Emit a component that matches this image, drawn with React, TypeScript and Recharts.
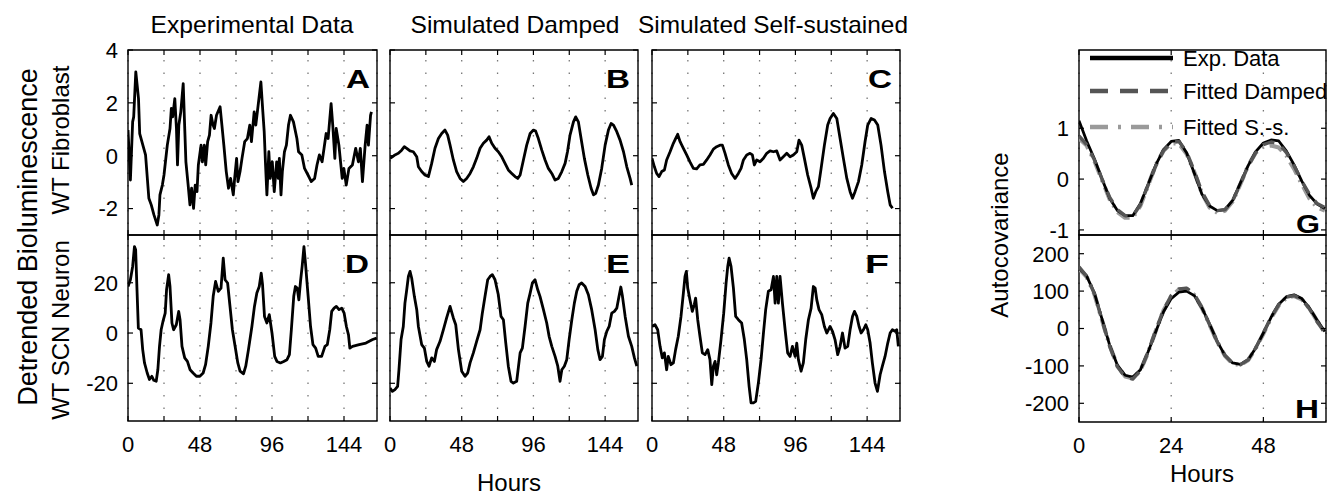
import React from 'react';
import {
  LineChart,
  Line,
  XAxis,
  YAxis,
  CartesianGrid,
  ReferenceArea
} from 'recharts';

const FONT = '"Liberation Sans", Arial, Helvetica, sans-serif';

// [hour, value] pairs
const expFibroblast: [number, number][] = [
  [0, 0.97], [1.6, -0.92], [3.1, 1.28], [3.8, 1.47], [5.2, 3.17], [6.1, 2.67], [7.0, 2.16], [7.8, 0.84], [10.5, 0.28], [11.7, 0.03],
  [13.9, -1.61], [15.5, -1.86], [17.3, -2.24], [19.5, -2.62], [20.6, -2.24], [21.3, -1.48], [22.9, -1.11], [24.0, -0.73], [26.2, 0.4], [28.0, 1.03],
  [28.9, 1.79], [29.8, 1.47], [31.2, 2.16], [32.3, 1.03], [33.0, -0.35], [33.9, 1.16], [35.2, 1.66], [36.8, 2.73], [37.9, 0.91], [38.6, -0.23],
  [40.1, -1.11], [41.3, -1.86], [42.4, -1.23], [43.7, -1.99], [44.8, -1.11], [46.0, -1.36], [46.9, -0.35], [48.7, 0.4], [49.6, -0.23], [50.9, 0.4],
  [51.8, -0.35], [53.1, 0.53], [54.3, 0.78], [55.4, 1.53], [56.7, 1.16], [57.6, 1.03], [59.0, 1.53], [61.4, 1.85], [62.6, 1.16], [63.9, 0.4],
  [65.5, -0.6], [67.0, -1.23], [68.4, -0.86], [70.2, -1.48], [71.1, -0.86], [72.4, -0.1], [73.3, -0.98], [74.7, -0.6], [76.0, -0.1], [77.8, 0.53],
  [79.6, 0.65], [81.2, 1.16], [82.3, 0.53], [84.1, 1.66], [85.2, 1.16], [88.6, 2.79], [89.9, 1.66], [90.8, 0.91], [91.7, -0.35], [92.6, -1.48],
  [93.9, 0.15], [94.8, -0.86], [96.2, -0.23], [97.5, -1.36], [99.1, -0.23], [100.2, -0.86], [100.9, -0.1], [102.0, -1.48], [102.9, -0.6], [104.3, 0.15],
  [105.6, 0.4], [107.0, 1.16], [108.3, 1.53], [110.3, 1.28], [112.6, 0.65], [113.7, 0.15], [115.9, 0.03], [117.7, -0.48], [120.0, -0.73], [122.2, -0.98],
  [124.4, -0.86], [126.0, -0.35], [127.6, 0.03], [129.4, -0.23], [130.7, 0.28], [132.1, 0.84], [133.4, 0.65], [135.4, 1.97], [136.5, 1.16], [137.9, -0.1],
  [138.8, 1.03], [140.6, 0.4], [142.8, -0.86], [143.9, -0.48], [145.5, -1.11], [147.3, -0.48], [149.6, -0.35], [151.8, 0.28], [153.6, -0.23], [154.9, 0.28],
  [156.3, -0.98], [158.1, 0.4], [159.4, 1.16], [160.3, 0.4], [161.7, 1.53], [162.3, 1.66]
];

const dampedFibroblast: [number, number][] = [
  [0, -0.1], [1.6, -0.04], [3.3, 0.03], [5.6, 0.09], [7.8, 0.21], [9.6, 0.34], [11.2, 0.28], [13.4, 0.18], [15.6, 0.15], [17.9, -0.04],
  [19.0, -0.42], [21.2, -0.6], [23.4, -0.73], [25.7, -0.79], [27.9, -0.29], [30.1, 0.28], [32.4, 0.65], [34.6, 0.84], [36.8, 0.97], [38.6, 0.78],
  [40.2, 0.4], [42.4, -0.16], [44.6, -0.6], [46.9, -0.86], [49.1, -0.98], [51.3, -0.86], [53.6, -0.67], [55.8, -0.42], [58.0, -0.1], [60.3, 0.28],
  [62.5, 0.47], [64.7, 0.59], [66.3, 0.72], [68.1, 0.47], [70.3, 0.28], [72.5, 0.15], [74.8, -0.04], [77.0, -0.29], [79.2, -0.54], [81.5, -0.67],
  [83.7, -0.79], [85.5, -0.86], [87.1, -0.73], [89.3, -0.16], [91.5, 0.4], [93.8, 0.84], [96.0, 0.97], [97.5, 0.93], [99.3, 0.65], [101.6, 0.21],
  [103.8, -0.16], [106.0, -0.48], [108.3, -0.67], [110.5, -0.92], [112.7, -0.86], [115.0, -0.6], [117.2, -0.29], [118.8, 0.15], [120.5, 0.78], [122.8, 1.28],
  [124.3, 1.47], [126.1, 1.28], [127.9, 0.65], [130.1, -0.1], [132.4, -0.73], [134.6, -1.23], [136.2, -1.48], [137.7, -1.42], [139.5, -1.11], [141.7, -0.48],
  [144.0, 0.4], [146.2, 0.97], [148.0, 1.22], [149.6, 1.16], [151.8, 0.91], [154.0, 0.59], [156.3, 0.15], [158.5, -0.42], [160.7, -0.86], [161.8, -1.11]
];

const selfSustFibroblast: [number, number][] = [
  [0, -0.1], [1.6, -0.42], [3.1, -0.67], [4.7, -0.79], [6.5, -0.6], [8.3, -0.54], [9.8, -0.16], [12.1, 0.15], [14.3, 0.47], [15.8, 0.65],
  [17.2, 0.81], [18.8, 0.53], [21.0, 0.28], [23.2, 0.03], [25.4, -0.23], [27.7, -0.48], [29.9, -0.5], [32.1, -0.35], [34.4, -0.33], [36.6, -0.16],
  [38.8, 0.03], [41.1, 0.25], [43.3, 0.34], [45.5, 0.4], [47.1, 0.4], [48.9, 0.09], [51.1, -0.35], [53.3, -0.67], [55.6, -0.86], [57.8, -0.67],
  [59.6, -0.48], [61.2, -0.16], [63.4, 0.03], [65.6, 0.09], [67.2, 0.03], [68.5, -0.35], [70.1, -0.16], [72.3, -0.23], [74.6, -0.1], [76.8, 0.09],
  [79.0, 0.18], [81.3, 0.15], [83.5, 0.18], [85.7, -0.16], [87.9, -0.04], [90.2, 0.09], [92.4, -0.04], [94.6, 0.03], [96.9, 0.15], [98.4, 0.59],
  [100.2, 0.4], [102.0, -0.1], [104.2, -0.73], [106.5, -1.23], [108.0, -1.61], [109.6, -1.36], [111.4, -1.17], [113.2, -0.48], [115.4, 0.4], [117.6, 1.16],
  [119.2, 1.41], [121.4, 1.6], [123.7, 1.41], [125.9, 0.65], [128.1, -0.1], [130.4, -0.86], [132.6, -1.36], [134.2, -1.61], [135.9, -1.36], [138.2, -0.98],
  [140.4, -0.35], [142.6, 0.53], [144.4, 1.16], [146.7, 1.41], [148.9, 1.35], [151.1, 1.16], [153.3, 0.4], [155.6, -0.6], [157.8, -1.36], [159.4, -1.86],
  [161.0, -1.99]
];

const expNeuron: [number, number][] = [
  [0, 18.5], [1.6, 21.2], [3.1, 26.5], [4.3, 34.4], [5.1, 33.1], [6.0, 17.2], [6.9, 2.0], [8.7, 1.3], [9.8, -6.6], [11.0, -11.9],
  [12.8, -15.9], [14.3, -18.5], [15.9, -17.2], [17.2, -18.8], [18.8, -19.2], [19.9, -14.6], [21.0, -5.3], [22.1, 1.3], [23.3, 4.6], [24.8, 7.9],
  [25.7, 17.2], [27.1, 23.2], [28.0, 18.5], [29.3, 4.0], [30.4, 1.3], [32.2, 3.3], [33.8, 8.6], [34.7, 5.3], [36.0, -5.3], [37.8, -9.9],
  [39.6, -11.3], [41.4, -14.6], [43.4, -15.9], [45.6, -17.2], [47.9, -17.2], [50.1, -15.9], [51.7, -12.6], [53.5, -5.3], [55.3, 4.0], [56.8, 14.6],
  [58.4, 20.5], [60.2, 16.6], [62.0, 17.9], [63.5, 29.8], [64.7, 21.2], [66.4, 19.9], [68.0, 10.6], [69.6, 1.3], [71.4, -5.3], [73.2, -11.9],
  [74.7, -15.2], [77.0, -16.2], [78.5, -13.2], [80.3, -6.6], [82.6, 2.6], [84.3, 10.6], [85.9, 15.9], [87.5, 18.5], [88.8, 23.8], [89.7, 19.2],
  [91.0, 6.6], [92.6, 4.0], [94.2, 7.3], [96.0, 0], [97.8, -9.3], [99.3, -11.3], [101.6, -11.9], [103.8, -11.3], [106.0, -10.6], [107.6, -8.6],
  [108.9, 1.3], [110.5, 14.6], [111.6, 18.5], [112.8, 17.9], [113.9, 13.2], [115.0, 20.5], [116.1, 26.5], [117.3, 34.4], [118.3, 27.8], [120.1, 14.6],
  [121.7, 2.6], [123.3, -4.6], [125.1, -6.0], [126.8, -9.3], [129.1, -9.3], [131.3, -5.3], [132.9, -4.6], [134.5, 1.3], [135.8, 8.6], [137.4, 9.9],
  [138.9, 10.6], [140.7, 9.3], [142.5, 9.9], [144.1, 7.9], [145.6, 2.6], [147.0, -0.7], [147.9, -6.0], [149.7, -5.3], [154.1, -4.6], [158.6, -4.0],
  [163.1, -2.6], [165.8, -2.0]
];

const dampedNeuron: [number, number][] = [
  [0, -21.9], [1.6, -23.2], [3.3, -22.5], [5.1, -21.2], [6.0, -14.6], [7.4, -2.6], [8.9, 2.6], [10.0, 11.9], [11.2, 17.2], [12.3, 22.5],
  [13.4, 24.5], [14.5, 21.9], [16.3, 14.6], [17.9, 9.3], [19.0, 2.6], [21.2, -4.6], [23.0, -6.0], [24.6, -11.3], [26.1, -13.2], [27.9, -9.9],
  [29.7, -11.3], [31.2, -6.6], [33.5, -3.3], [35.7, 1.3], [37.9, 6.0], [40.2, 10.6], [42.4, 6.0], [44.0, 3.3], [45.8, -6.6], [48.0, -15.2],
  [50.2, -17.2], [52.0, -15.9], [53.6, -11.9], [55.8, -7.9], [58.0, -3.3], [60.3, 1.3], [61.8, 7.9], [63.6, 14.6], [65.4, 21.2], [67.0, 22.5],
  [68.5, 23.2], [70.3, 21.2], [72.5, 15.2], [74.3, 6.6], [75.9, 5.3], [77.5, -4.0], [79.2, -13.2], [81.0, -19.2], [82.6, -19.9], [84.8, -19.2],
  [87.1, -7.9], [88.6, -6.0], [90.4, 2.6], [92.2, 11.9], [93.8, 15.9], [95.3, 19.9], [97.1, 21.2], [98.9, 17.2], [100.4, 14.6], [102.7, 9.3],
  [104.9, 4.0], [106.5, -1.3], [108.3, -5.3], [110.5, -9.3], [112.3, -13.2], [113.8, -19.2], [115.0, -14.6], [116.7, -13.2], [118.3, -10.6], [119.9, -2.6],
  [121.7, 5.3], [123.4, 11.9], [125.0, 16.6], [126.6, 19.2], [128.3, 19.9], [130.6, 18.5], [132.8, 15.2], [135.0, 9.3], [137.3, 1.3], [139.1, -6.6],
  [140.6, -10.6], [142.2, -9.3], [143.5, -2.6], [145.1, 0.7], [146.7, 2.6], [148.4, 7.9], [150.2, 8.6], [151.8, 9.9], [153.3, 14.6], [154.5, 18.3],
  [155.6, 14.6], [157.4, 6.6], [159.6, -1.3], [161.8, -5.3], [163.6, -9.9], [165.2, -13.2]
];

const selfSustNeuron: [number, number][] = [
  [0, 2.6], [2.0, 3.3], [3.8, 1.3], [5.4, -5.3], [6.9, -9.9], [8.3, -7.9], [9.8, -14.6], [10.9, -9.3], [12.7, -12.6], [14.3, -11.9],
  [15.8, -6.6], [17.6, -1.3], [19.4, 6.6], [21.0, 15.9], [22.1, 22.5], [23.0, 24.5], [23.9, 17.9], [25.4, 13.2], [27.0, 8.6], [28.3, 11.3],
  [29.2, 13.9], [30.6, 5.3], [32.1, -1.3], [33.7, -7.9], [35.5, -8.6], [37.3, -6.6], [38.8, -10.6], [40.0, -20.5], [41.1, -13.2], [42.2, -11.3],
  [43.3, -16.6], [44.4, -11.9], [46.2, -2.6], [48.0, 7.9], [49.6, 19.9], [50.7, 26.5], [51.6, 29.8], [52.9, 26.5], [54.5, 17.9], [56.0, 6.6],
  [57.8, 5.3], [60.0, 4.0], [61.8, -2.6], [63.4, -10.6], [65.0, -21.2], [66.3, -27.8], [67.9, -27.8], [69.4, -27.2], [71.2, -19.9], [73.0, -10.6],
  [74.6, 0], [76.1, 9.3], [77.9, 16.6], [79.7, 17.2], [81.3, 22.5], [82.4, 11.9], [83.5, 22.5], [84.6, 11.9], [85.7, 22.5], [87.3, 11.9],
  [89.1, 1.3], [90.8, -7.9], [92.4, -9.3], [94.0, -5.3], [95.8, -9.3], [96.9, -4.0], [98.0, -10.6], [99.8, -15.2], [101.3, -11.9], [102.9, -2.6],
  [104.7, 5.3], [106.5, 9.9], [108.0, 18.5], [109.2, 17.9], [110.3, 13.2], [111.8, 9.3], [113.6, 7.3], [115.4, 2.6], [117.0, 0], [119.2, 2.6],
  [120.8, 0.7], [122.5, -2.6], [124.3, -8.6], [125.9, -5.3], [127.5, 0], [129.2, -6.0], [131.0, -5.3], [132.6, 1.3], [134.2, 6.6], [135.5, 8.6],
  [137.1, 6.6], [138.6, 2.6], [140.0, 0], [141.5, 1.3], [143.1, 3.3], [144.4, 1.3], [146.0, -4.0], [147.5, -11.9], [149.3, -19.9], [150.9, -23.2],
  [152.7, -16.6], [154.2, -13.2], [156.0, -9.3], [157.8, -4.0], [159.4, 0], [160.9, 1.3], [162.7, 0.7], [163.8, 1.3], [164.9, -5.3]
];

// autocovariance panels (lag in hours)
const lagHours = [0, 2, 4, 6, 8, 10, 12, 14, 16, 18, 20, 22, 24, 26, 28, 30, 32, 34, 36, 38, 40, 42, 44, 46, 48, 50, 52, 54, 56, 58, 60, 62, 64];

const acovFibroExp = [1.15, 0.75, 0.4, 0.0, -0.38, -0.62, -0.72, -0.72, -0.48, -0.1, 0.28, 0.58, 0.74, 0.76, 0.52, 0.12, -0.3, -0.53, -0.62, -0.6, -0.42, -0.08, 0.26, 0.54, 0.71, 0.77, 0.75, 0.55, 0.28, -0.04, -0.32, -0.49, -0.58];
const acovFibroDamped = [0.85, 0.68, 0.38, 0.0, -0.36, -0.6, -0.72, -0.73, -0.5, -0.12, 0.26, 0.56, 0.72, 0.74, 0.54, 0.16, -0.25, -0.52, -0.62, -0.6, -0.43, -0.1, 0.25, 0.52, 0.68, 0.73, 0.7, 0.52, 0.26, -0.04, -0.3, -0.48, -0.56];
const acovFibroSS = [0.8, 0.66, 0.36, -0.02, -0.4, -0.65, -0.76, -0.76, -0.52, -0.12, 0.28, 0.56, 0.7, 0.7, 0.5, 0.14, -0.28, -0.56, -0.66, -0.62, -0.44, -0.1, 0.26, 0.52, 0.64, 0.66, 0.62, 0.46, 0.2, -0.1, -0.38, -0.56, -0.62];

const acovNeuronExp = [162, 140, 95, 25, -45, -98, -125, -130, -110, -62, -8, 45, 80, 97, 100, 88, 55, 12, -35, -72, -92, -96, -84, -52, -12, 30, 65, 85, 90, 80, 55, 22, -8];
const acovNeuronDamped = [165, 140, 93, 22, -48, -102, -130, -135, -113, -62, -4, 50, 88, 106, 108, 92, 56, 10, -36, -72, -93, -97, -84, -52, -12, 30, 64, 84, 88, 78, 52, 18, -12];
const acovNeuronSS = [160, 138, 92, 22, -46, -100, -128, -133, -112, -64, -6, 48, 86, 104, 106, 90, 55, 10, -36, -73, -94, -98, -85, -53, -14, 28, 62, 82, 87, 78, 54, 20, -10];

const traceTicks = [0, 24, 48, 72, 96, 120, 144];
const traceLabels = [0, 48, 96, 144];
const lagTicks = [0, 24, 48];

const PAD_L = 80;
const PAD_R = 6;
const PAD_T = 16;
const PAD_B = 44;

type LineSpec = { key: string; color: string; width: number; dash?: string };

interface PanelProps {
  left: number;
  top: number;
  width: number;
  height: number;
  data: Record<string, number>[];
  lines: LineSpec[];
  xMax: number;
  xTicks: number[];
  xLabels: number[];
  yDomain: [number, number];
  yTicks: number[];
  yLabels: boolean;
}

const toRows = (pairs: [number, number][]) => pairs.map(([h, v]) => ({ h, v }));

const Panel = ({ left, top, width, height, data, lines, xMax, xTicks, xLabels, yDomain, yTicks, yLabels }: PanelProps) => {
  const xTick = (props: any) => {
    const { x, y, payload } = props;
    return (
      <g>
        <line x1={x} y1={y} x2={x} y2={y - 5} stroke="#000" strokeWidth={1.2} />
        <line x1={x} y1={y - height} x2={x} y2={y - height + 5} stroke="#000" strokeWidth={1.2} />
        {xLabels.includes(payload.value) && (
          <text x={x} y={y + 31} textAnchor="middle" fontSize={22} fontFamily={FONT} fill="#000">
            {payload.value}
          </text>
        )}
      </g>
    );
  };
  const yTick = (props: any) => {
    const { x, y, payload } = props;
    return (
      <g>
        <line x1={x} y1={y} x2={x + 5} y2={y} stroke="#000" strokeWidth={1.2} />
        <line x1={x + width} y1={y} x2={x + width - 5} y2={y} stroke="#000" strokeWidth={1.2} />
        {yLabels && (
          <text x={x - 10} y={y} dy="0.36em" textAnchor="end" fontSize={22} fontFamily={FONT} fill="#000">
            {payload.value}
          </text>
        )}
      </g>
    );
  };
  return (
    <div style={{ position: 'absolute', left: left - PAD_L, top: top - PAD_T }}>
      <LineChart
        width={PAD_L + width + PAD_R}
        height={PAD_T + height + PAD_B}
        data={data}
        margin={{ top: PAD_T, right: PAD_R, left: 0, bottom: 0 }}
      >
        <CartesianGrid horizontal={false} stroke="#777" strokeWidth={1.3} strokeDasharray="1.5 11" strokeDashoffset={2.5} />
        <XAxis
          dataKey="h"
          type="number"
          domain={[0, xMax]}
          ticks={xTicks}
          interval={0}
          height={PAD_B}
          axisLine={false}
          tickLine={false}
          tickSize={0}
          tickMargin={0}
          tick={xTick}
          allowDataOverflow
        />
        <YAxis
          type="number"
          domain={yDomain}
          ticks={yTicks}
          interval={0}
          width={PAD_L}
          axisLine={false}
          tickLine={false}
          tickSize={0}
          tickMargin={0}
          tick={yTick}
          allowDataOverflow
        />
        <ReferenceArea
          x1={0}
          x2={xMax}
          y1={yDomain[0]}
          y2={yDomain[1]}
          fill="none"
          stroke="#000"
          strokeWidth={1.4}
          ifOverflow="visible"
        />
        {lines.map((l) => (
          <Line
            key={l.key}
            dataKey={l.key}
            type="linear"
            dot={false}
            stroke={l.color}
            strokeWidth={l.width}
            strokeDasharray={l.dash}
            strokeLinejoin="round"
            isAnimationActive={false}
          />
        ))}
      </LineChart>
    </div>
  );
};

const blackTrace: LineSpec[] = [{ key: 'v', color: '#000', width: 2.8 }];
const acovLines: LineSpec[] = [
  { key: 'ss', color: '#9a9a9a', width: 4.2, dash: '14 6 2 6' },
  { key: 'exp', color: '#000', width: 2.8 },
  { key: 'damped', color: '#555', width: 3.4, dash: '12 9' }
];

const fibroAcovRows = lagHours.map((h, i) => ({ h, exp: acovFibroExp[i], damped: acovFibroDamped[i], ss: acovFibroSS[i] }));
const neuronAcovRows = lagHours.map((h, i) => ({ h, exp: acovNeuronExp[i], damped: acovNeuronDamped[i], ss: acovNeuronSS[i] }));

const topDomain: [number, number] = [-3, 4];
const topTicks = [-2, 0, 2, 4];
const botDomain: [number, number] = [-35, 39];
const botTicks = [-20, 0, 20];

const panelLetters = [
  { t: 'A', x: 370, y: 88 },
  { t: 'B', x: 630, y: 88 },
  { t: 'C', x: 892, y: 88 },
  { t: 'D', x: 369, y: 273 },
  { t: 'E', x: 630, y: 273 },
  { t: 'F', x: 889, y: 273 },
  { t: 'G', x: 1320, y: 233 },
  { t: 'H', x: 1319, y: 418 }
];

const legendItems = [
  { label: 'Exp. Data', color: '#000', width: 4.5, dash: undefined, y: 58 },
  { label: 'Fitted Damped', color: '#555', width: 4.5, dash: '18 12', y: 91 },
  { label: 'Fitted S.-s.', color: '#9a9a9a', width: 4.5, dash: '18 10 3 10', y: 127 }
];

export default function App() {
  const txt = { fontFamily: FONT, fill: '#000' };
  return (
    <div style={{ position: 'absolute', left: 0, top: 0, width: 1336, height: 496, background: '#fff', overflow: 'hidden' }}>
      <Panel left={128} top={50} width={249} height={185} data={toRows(expFibroblast)} lines={blackTrace}
        xMax={166} xTicks={traceTicks} xLabels={[]} yDomain={topDomain} yTicks={topTicks} yLabels />
      <Panel left={390} top={50} width={248} height={185} data={toRows(dampedFibroblast)} lines={blackTrace}
        xMax={166} xTicks={traceTicks} xLabels={[]} yDomain={topDomain} yTicks={topTicks} yLabels={false} />
      <Panel left={652} top={50} width={248} height={185} data={toRows(selfSustFibroblast)} lines={blackTrace}
        xMax={166} xTicks={traceTicks} xLabels={[]} yDomain={topDomain} yTicks={topTicks} yLabels={false} />
      <Panel left={128} top={235} width={249} height={186} data={toRows(expNeuron)} lines={blackTrace}
        xMax={166} xTicks={traceTicks} xLabels={traceLabels} yDomain={botDomain} yTicks={botTicks} yLabels />
      <Panel left={390} top={235} width={248} height={186} data={toRows(dampedNeuron)} lines={blackTrace}
        xMax={166} xTicks={traceTicks} xLabels={traceLabels} yDomain={botDomain} yTicks={botTicks} yLabels={false} />
      <Panel left={652} top={235} width={248} height={186} data={toRows(selfSustNeuron)} lines={blackTrace}
        xMax={166} xTicks={traceTicks} xLabels={traceLabels} yDomain={botDomain} yTicks={botTicks} yLabels={false} />
      <Panel left={1079} top={50} width={247} height={185} data={fibroAcovRows} lines={acovLines}
        xMax={64.3} xTicks={lagTicks} xLabels={[]} yDomain={[-1.1, 2.54]} yTicks={[-1, 0, 1]} yLabels />
      <Panel left={1079} top={235} width={247} height={187} data={neuronAcovRows} lines={acovLines}
        xMax={64.3} xTicks={lagTicks} xLabels={lagTicks} yDomain={[-250, 250]} yTicks={[-200, -100, 0, 100, 200]} yLabels />

      <svg width={1336} height={496} style={{ position: 'absolute', left: 0, top: 0, pointerEvents: 'none' }}>
        <text x={252} y={33} textAnchor="middle" fontSize={24} textLength={203} lengthAdjust="spacingAndGlyphs" {...txt}>Experimental Data</text>
        <text x={515} y={33} textAnchor="middle" fontSize={24} textLength={209} lengthAdjust="spacingAndGlyphs" {...txt}>Simulated Damped</text>
        <text x={773} y={33} textAnchor="middle" fontSize={24} textLength={270} lengthAdjust="spacingAndGlyphs" {...txt}>Simulated Self-sustained</text>

        <text transform="translate(37,237) rotate(-90)" textAnchor="middle" fontSize={27} {...txt}>Detrended Bioluminescence</text>
        <text transform="translate(69,140) rotate(-90)" textAnchor="middle" fontSize={24} {...txt}>WT Fibroblast</text>
        <text transform="translate(69,330) rotate(-90)" textAnchor="middle" fontSize={24} {...txt}>WT SCN Neuron</text>
        <text transform="translate(1008,235) rotate(-90)" textAnchor="middle" fontSize={24} {...txt}>Autocovariance</text>

        <text x={509} y={491} textAnchor="middle" fontSize={24} {...txt}>Hours</text>
        <text x={1202} y={482} textAnchor="middle" fontSize={24} {...txt}>Hours</text>

        {panelLetters.map((p) => (
          <text key={p.t} x={p.x} y={p.y} textAnchor="end" fontSize={26} fontWeight="bold"
            textLength={24} lengthAdjust="spacingAndGlyphs" {...txt}>{p.t}</text>
        ))}

        {legendItems.map((it) => (
          <g key={it.label}>
            <line x1={1090} y1={it.y} x2={1173} y2={it.y} stroke={it.color} strokeWidth={it.width} strokeDasharray={it.dash} />
            <text x={1183} y={it.y + 8} fontSize={22} {...txt}>{it.label}</text>
          </g>
        ))}
      </svg>
    </div>
  );
}
